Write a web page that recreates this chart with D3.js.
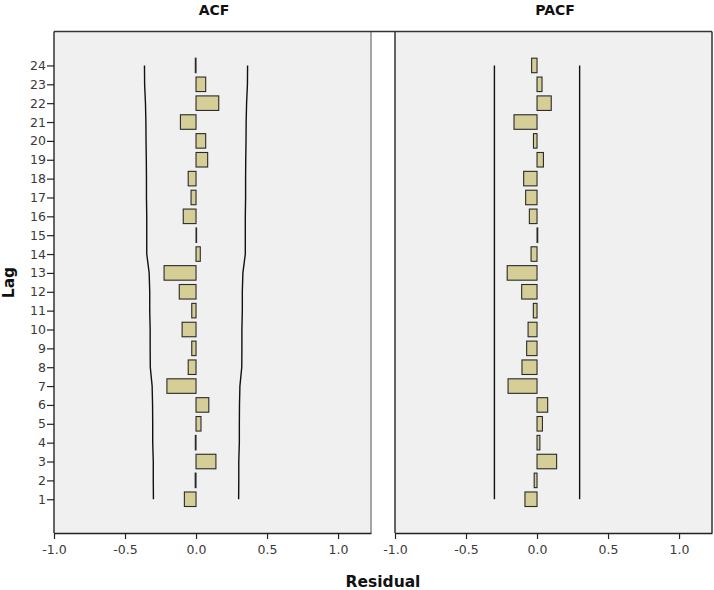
<!DOCTYPE html>
<html><head><meta charset="utf-8">
<script src="https://cdn.jsdelivr.net/npm/d3@7/dist/d3.min.js"></script>
<style>
body{margin:0;background:#fff;}
svg{display:block;}
</style></head>
<body>
<svg id="chart" width="714" height="590"></svg>
<script>
// ---- data ----
const lags = [1,2,3,4,5,6,7,8,9,10,11,12,13,14,15,16,17,18,19,20,21,22,23,24];
const acfValues = [-0.082,-0.006,0.140,-0.005,0.035,0.090,-0.205,-0.055,-0.030,-0.098,-0.030,-0.118,-0.225,0.030,0.004,-0.090,-0.035,-0.055,0.082,0.068,-0.110,0.160,0.068,-0.005];
const pacfValues = [-0.085,-0.020,0.138,0.020,0.038,0.075,-0.204,-0.106,-0.073,-0.063,-0.026,-0.108,-0.210,-0.042,0.005,-0.054,-0.080,-0.094,0.045,-0.025,-0.162,0.100,0.035,-0.038];
const acfBound = [0.300,0.301,0.301,0.305,0.305,0.306,0.309,0.322,0.323,0.323,0.326,0.326,0.330,0.347,0.347,0.347,0.349,0.349,0.350,0.352,0.353,0.356,0.362,0.363];
const pacfBound = [0.300,0.300,0.300,0.300,0.300,0.300,0.300,0.300,0.300,0.300,0.300,0.300,0.300,0.300,0.300,0.300,0.300,0.300,0.300,0.300,0.300,0.300,0.300,0.300];
const xTicks = [-1.0,-0.5,0.0,0.5,1.0];
const panelTitles = ["ACF","PACF"];
const xTitle = "Residual";
const yTitle = "Lag";

const svg = d3.select("#chart");
const plotTop = 31.5, plotBottom = 533;
const y = d3.scaleLinear().domain([-0.79, 25.8]).range([plotBottom, plotTop]);
const step = Math.abs(y(1) - y(0));
const barH = step * 0.77;
const fontTick = "DejaVu Sans, sans-serif";
const fmt = d => d3.format(".1f")(d).replace("\u2212", "-");

const panels = [
  {title: panelTitles[0], x0: 54, x1: 371, vals: acfValues, bound: acfBound, yAxis: true},
  {title: panelTitles[1], x0: 395, x1: 712, vals: pacfValues, bound: pacfBound, yAxis: false}
];

panels.forEach((p, i) => {
  const x = d3.scaleLinear().domain([-1, 1.232]).range([p.x0, p.x1]);
  const g = svg.append("g");
  g.append("rect").attr("x", p.x0).attr("y", plotTop).attr("width", p.x1 - p.x0).attr("height", plotBottom - plotTop)
    .attr("fill", "#f0f0f0");

  // confidence bounds
  const line = d3.line().x(d => x(d[1])).y(d => y(d[0]));
  g.append("path").datum(lags.map((l, k) => [l, p.bound[k]])).attr("d", line)
    .attr("fill", "none").attr("stroke", "#111").attr("stroke-width", 1.4);
  g.append("path").datum(lags.map((l, k) => [l, -p.bound[k]])).attr("d", line)
    .attr("fill", "none").attr("stroke", "#111").attr("stroke-width", 1.4);

  // bars
  g.selectAll("rect.bar").data(lags.map((l, k) => ({lag: l, v: p.vals[k]}))).enter()
    .append("rect").attr("class", "bar")
    .attr("x", d => Math.min(x(0), x(d.v)))
    .attr("width", d => Math.abs(x(d.v) - x(0)))
    .attr("y", d => y(d.lag) - barH / 2)
    .attr("height", barH)
    .attr("fill", "#d5cf97").attr("stroke", "#2a2a2a").attr("stroke-width", 1.1);

  // borders
  g.append("line").attr("x1", p.x1).attr("x2", p.x1).attr("y1", plotTop).attr("y2", plotBottom)
    .attr("stroke", i === 0 ? "#8a8a8a" : "#333").attr("stroke-width", 1.5);
  g.append("line").attr("x1", p.x0).attr("x2", p.x0).attr("y1", plotTop).attr("y2", plotBottom)
    .attr("stroke", "#333").attr("stroke-width", 1.5);

  // x axis
  const xa = g.append("g").attr("transform", `translate(0,${plotBottom})`)
    .call(d3.axisBottom(x).tickValues(xTicks).tickFormat(fmt).tickSize(6).tickSizeOuter(0).tickPadding(6));
  xa.select(".domain").attr("stroke", "#222").attr("stroke-width", 1.5);
  xa.selectAll(".tick line").attr("stroke", "#222").attr("stroke-width", 1.2);
  xa.selectAll(".tick text").attr("font-family", fontTick).attr("font-size", 12.5).attr("fill", "#3a3a3a");

  if (p.yAxis) {
    const ya = g.append("g").attr("transform", `translate(${p.x0},0)`)
      .call(d3.axisLeft(y).tickValues(lags).tickFormat(d3.format("d")).tickSize(7).tickPadding(1));
    ya.select(".domain").remove();
    ya.selectAll(".tick line").attr("stroke", "#222").attr("stroke-width", 1.2);
    ya.selectAll(".tick text").attr("font-family", fontTick).attr("font-size", 12.5).attr("fill", "#3a3a3a");
  }

  svg.append("text").attr("x", (p.x0 + p.x1) / 2 + 1.5).attr("y", 15)
    .attr("text-anchor", "middle").attr("font-family", fontTick).attr("font-weight", "bold")
    .attr("font-size", 14).attr("fill", "#111").text(p.title);
});

// continuous top frame line
svg.append("line").attr("x1", 54).attr("x2", 712).attr("y1", plotTop).attr("y2", plotTop)
  .attr("stroke", "#333").attr("stroke-width", 1.5);

svg.append("text").attr("x", 383).attr("y", 587).attr("text-anchor", "middle")
  .attr("font-family", fontTick).attr("font-weight", "bold").attr("font-size", 15.5)
  .attr("fill", "#111").text(xTitle);
svg.append("text").attr("transform", "translate(14,282.5) rotate(-90)").attr("text-anchor", "middle")
  .attr("font-family", fontTick).attr("font-weight", "bold").attr("font-size", 15.5)
  .attr("fill", "#111").text(yTitle);
</script>
</body></html>
